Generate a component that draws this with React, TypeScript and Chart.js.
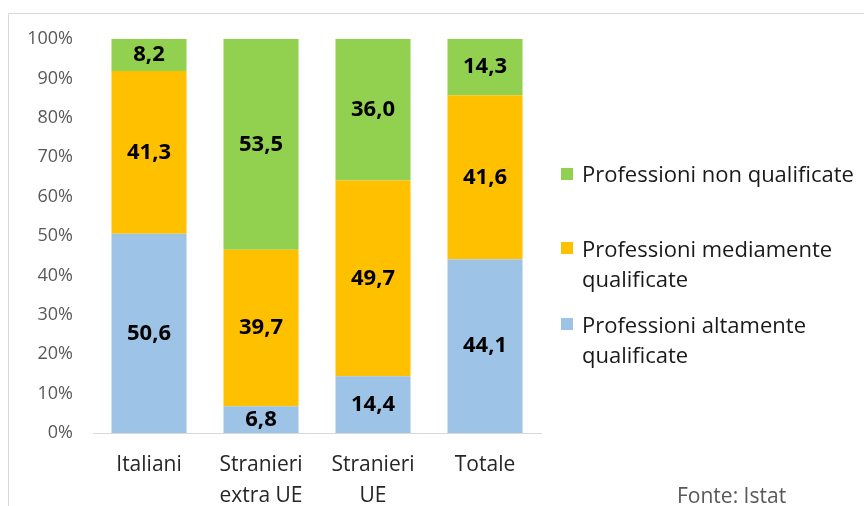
import { useEffect, useRef } from "react";
import { Chart, registerables } from "chart.js";

Chart.register(...registerables);

const categories: (string | string[])[] = ["Italiani", ["Stranieri", "extra UE"], ["Stranieri", "UE"], "Totale"];
const altamente = [50.6, 6.8, 14.4, 44.1];
const mediamente = [41.3, 39.7, 49.7, 41.6];
const nonQualificate = [8.2, 53.5, 36.0, 14.3];
const seriesNames = [
  "Professioni altamente qualificate",
  "Professioni mediamente qualificate",
  "Professioni non qualificate",
];
const seriesColors = ["#9DC3E6", "#FFC000", "#92D050"];
const legendLines = [
  ["Professioni non qualificate"],
  ["Professioni mediamente", "qualificate"],
  ["Professioni altamente", "qualificate"],
];
const legendColors = ["#92D050", "#FFC000", "#9DC3E6"];
const sourceNote = "Fonte: Istat";

const FONT = "'Open Sans', sans-serif";

const overlay = {
  id: "overlay",
  beforeDraw(chart: any) {
    const ctx = chart.ctx;
    ctx.save();
    ctx.fillStyle = "#ffffff";
    ctx.fillRect(0, 0, chart.width, chart.height);
    ctx.strokeStyle = "#d9d9d9";
    ctx.lineWidth = 1;
    ctx.strokeRect(8.5, 13.5, chart.width + 20, chart.height + 20);
    ctx.restore();
  },
  afterDatasetsDraw(chart: any) {
    const ctx = chart.ctx;
    ctx.save();
    ctx.font = `bold 22px ${FONT}`;
    ctx.fillStyle = "#000000";
    ctx.textAlign = "center";
    ctx.textBaseline = "middle";
    chart.data.datasets.forEach((ds: any, i: number) => {
      const meta = chart.getDatasetMeta(i);
      meta.data.forEach((bar: any, j: number) => {
        const top = Math.max(bar.y, chart.chartArea.top);
        const cy = (top + bar.base) / 2;
        const v = ds.data[j] as number;
        ctx.fillText(v.toFixed(1).replace(".", ","), bar.x, cy);
      });
    });
    ctx.restore();
  },
  afterDraw(chart: any) {
    const ctx = chart.ctx;
    ctx.save();
    // legend
    const tops = [168, 242, 318];
    const baselines = [182, 257, 333];
    ctx.font = `22px ${FONT}`;
    ctx.textBaseline = "alphabetic";
    ctx.textAlign = "left";
    legendLines.forEach((lines, i) => {
      ctx.fillStyle = legendColors[i];
      ctx.fillRect(561, tops[i], 12, 12);
      ctx.fillStyle = "#1a1a1a";
      lines.forEach((ln, k) => {
        ctx.fillText(ln, 582, baselines[i] + k * 30);
      });
    });
    // source
    ctx.font = `21px ${FONT}`;
    ctx.fillStyle = "#595959";
    ctx.fillText(sourceNote, 677, 503);
    ctx.restore();
  },
};

export default function App() {
  const ref = useRef<HTMLCanvasElement>(null);
  useEffect(() => {
    const chart = new Chart(ref.current!, {
      type: "bar",
      data: {
        labels: categories as any,
        datasets: [
          { label: seriesNames[0], data: altamente, backgroundColor: seriesColors[0] },
          { label: seriesNames[1], data: mediamente, backgroundColor: seriesColors[1] },
          { label: seriesNames[2], data: nonQualificate, backgroundColor: seriesColors[2] },
        ],
      },
      options: {
        animation: false,
        responsive: false,
        layout: { padding: { left: 0, top: 39, right: 323, bottom: 0 } },
        datasets: { bar: { categoryPercentage: 1, barPercentage: 0.67 } },
        plugins: {
          legend: { display: false },
          tooltip: { enabled: false },
        },
        scales: {
          x: {
            stacked: true,
            grid: { display: false, drawTicks: false },
            border: { display: true, color: "#d9d9d9", width: 1 },
            ticks: { font: { family: FONT, size: 21, lineHeight: 1.48 }, color: "#262626", padding: 16, maxRotation: 0 },
            afterFit: (s: any) => { s.height = 73; },
          },
          y: {
            stacked: true,
            min: 0,
            max: 100,
            grid: { display: false, drawTicks: false },
            border: { display: false },
            ticks: {
              stepSize: 10,
              font: { family: FONT, size: 18 },
              color: "#595959",
              padding: 20,
              callback: (v: any) => v + "%",
            },
            afterFit: (s: any) => { s.width = 93; },
          },
        },
      },
      plugins: [overlay],
    });
    return () => chart.destroy();
  }, []);
  return (
    <div style={{ position: "fixed", left: 0, top: 0, width: 864, height: 506 }}>
      <canvas ref={ref} width={864} height={506} style={{ display: "block" }} />
    </div>
  );
}
